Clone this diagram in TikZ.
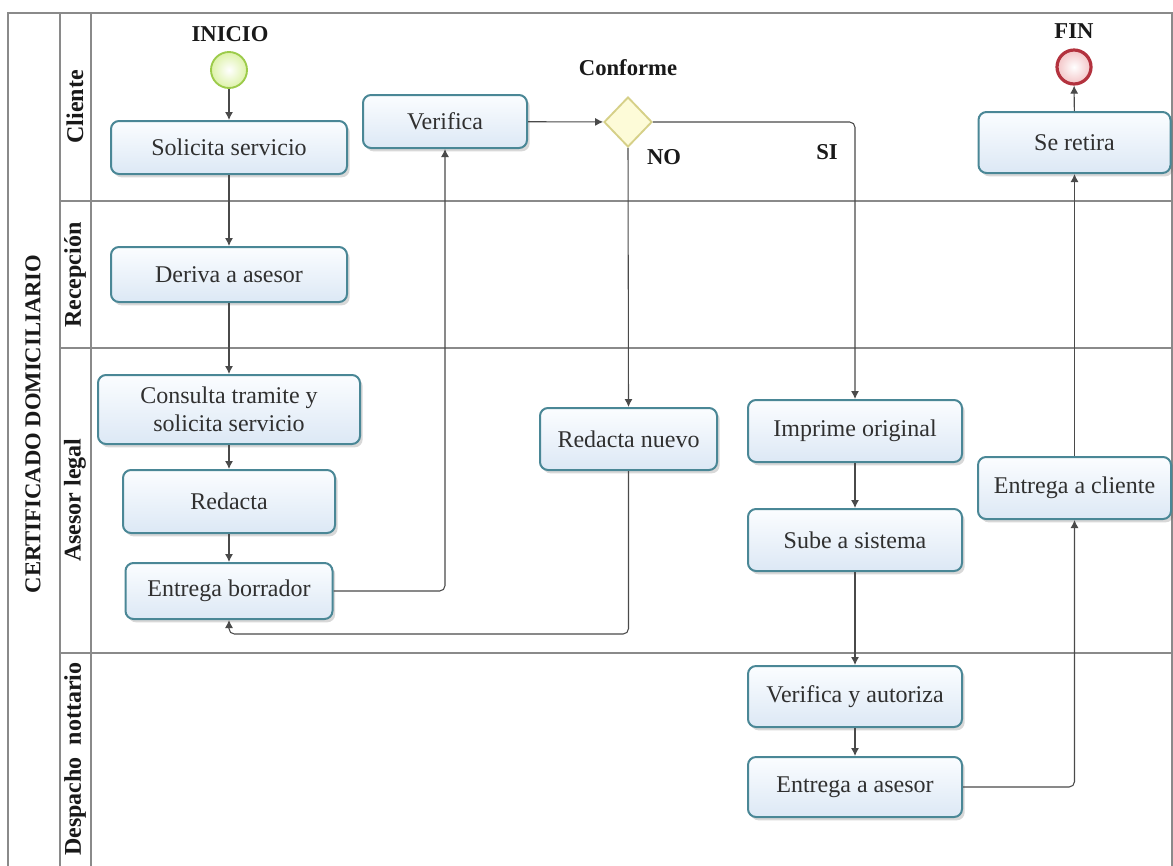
\documentclass[tikz,border=0pt]{standalone}
\usepackage{fontspec}
\setmainfont{Liberation Serif}
\usetikzlibrary{arrows.meta,shapes.geometric,shadows}

\definecolor{laneline}{HTML}{8A8A8A}
\definecolor{boxedge}{HTML}{4A8796}
\definecolor{boxtop}{HTML}{FBFDFF}
\definecolor{boxbot}{HTML}{DCE8F5}
\definecolor{flowline}{HTML}{4A4A4A}
\definecolor{boxtext}{HTML}{303030}
\definecolor{startedge}{HTML}{9CCB4A}
\definecolor{startfill}{HTML}{DDF2A8}
\definecolor{endedge}{HTML}{B3323E}
\definecolor{endfill}{HTML}{F3C4C6}
\definecolor{gateedge}{HTML}{D6D088}
\definecolor{gatefill}{HTML}{FDFBD8}

\newcommand{\pxu}{0.75pt}

\tikzset{
  task/.style 2 args={draw=boxedge, line width=1.5pt, rounded corners=6pt,
    top color=boxtop, bottom color=boxbot, text=boxtext, align=center,
    font=\fontsize{18}{21}\selectfont, inner sep=0pt,
    minimum width=#1*\pxu, minimum height=#2*\pxu,
    drop shadow={shadow xshift=2pt, shadow yshift=-2.5pt, opacity=0.25, fill=black!60}},
  startev/.style={circle, draw=startedge, line width=1.4pt, inner color=white,
    outer color=startfill, minimum size=36*\pxu, inner sep=0pt},
  endev/.style={circle, draw=endedge, line width=2.4pt, inner color=white,
    outer color=endfill, minimum size=34*\pxu, inner sep=0pt},
  gate/.style={diamond, draw=gateedge, line width=1.4pt, fill=gatefill,
    minimum width=48*\pxu, minimum height=50*\pxu, inner sep=0pt},
  tag/.style={font=\bfseries\fontsize{17}{20}\selectfont, text=black!90},
  lanename/.style={font=\bfseries\fontsize{18}{20}\selectfont, rotate=90, text=black!90},
  flow/.style={draw=flowline, line width=0.8pt, rounded corners=4pt,
    -{Latex[length=6pt,width=6pt]}},
  lane/.style={draw=laneline, line width=1.1pt}
}

\begin{document}
\begin{tikzpicture}[x=\pxu, y=-\pxu]
\useasboundingbox (0,0) rectangle (1173,865);
\fill[white] (0,0) rectangle (1173,865);

% pool and lanes
\draw[lane] (8,870) -- (8,13) -- (1172,13) -- (1172,870);
\draw[lane] (60,13) -- (60,870);
\draw[lane] (91,13) -- (91,870);
\draw[lane] (60,201) -- (1172,201);
\draw[lane] (60,348) -- (1172,348);
\draw[lane] (60,653) -- (1172,653);

\node[lanename, font=\bfseries\fontsize{17}{20}\selectfont] (pool) at (33,424) {CERTIFICADO DOMICILIARIO};
\node[lanename] (lcli) at (75,107) {Cliente};
\node[lanename] (lrec) at (75,275) {Recepción};
\node[lanename] (lase) at (75,500) {Asesor legal};
\node[lanename] (ldes) at (75,759) {Despacho\ \ nottario};

% events and gateway
\node[startev] (start) at (229,70) {};
\node[tag] (tinicio) at (230,34) {INICIO};
\node[endev] (fin) at (1074,67) {};
\node[tag] (tfin) at (1074,31) {FIN};
\node[gate] (conf) at (628,122) {};
\node[tag] (tconf) at (628,68) {Conforme};
\node[tag] (tno) at (664,157) {NO};
\node[tag] (tsi) at (827,152) {SI};

% tasks
\node[task={236}{53}] (solicita) at (229,147.5) {Solicita servicio};
\node[task={236}{55}] (deriva) at (229,274.5) {Deriva a asesor};
\node[task={262}{69}] (consulta) at (229,409.5) {Consulta tramite y\\solicita servicio};
\node[task={212}{63}] (redacta) at (229,501.5) {Redacta};
\node[task={207}{56}] (borrador) at (229,591) {Entrega borrador};
\node[task={164}{53}] (verifica) at (445,121.5) {Verifica};
\node[task={177}{62}] (nuevo) at (628.5,439) {Redacta nuevo};
\node[task={214}{62}] (imprime) at (855,431) {Imprime original};
\node[task={214}{62}] (sube) at (855,540) {Sube a sistema};
\node[task={214}{61}] (autoriza) at (855,696.5) {Verifica y autoriza};
\node[task={214}{60}] (entasesor) at (855,787) {Entrega a asesor};
\node[task={193}{62}] (entcliente) at (1074.5,488) {Entrega a cliente};
\node[task={192}{61}] (retira) at (1074.5,142.5) {Se retira};

\coordinate (loop) at (0,634);

% sequence flows
\draw[flow] (start) -- (solicita);
\draw[flow] (solicita) -- (deriva);
\draw[flow] (deriva) -- (consulta);
\draw[flow] (consulta) -- (redacta);
\draw[flow] (redacta) -- (borrador);
\draw[flow] (borrador.east) -| (verifica.south);
\draw[flow] (verifica) -- (conf);
\draw[flow] (conf.east) -| (imprime.north);
\draw[flow] (conf.south) -- (nuevo.north);
\draw[flow] (nuevo.south) -- (nuevo.south |- loop) -- (borrador.south |- loop) -- (borrador.south);
\draw[flow] (imprime) -- (sube);
\draw[flow] (sube) -- (autoriza);
\draw[flow] (autoriza) -- (entasesor);
\draw[flow] (entasesor.east) -| (entcliente.south);
\draw[flow] (entcliente) -- (retira);
\draw[flow] (retira) -- (fin);
\end{tikzpicture}
\end{document}
